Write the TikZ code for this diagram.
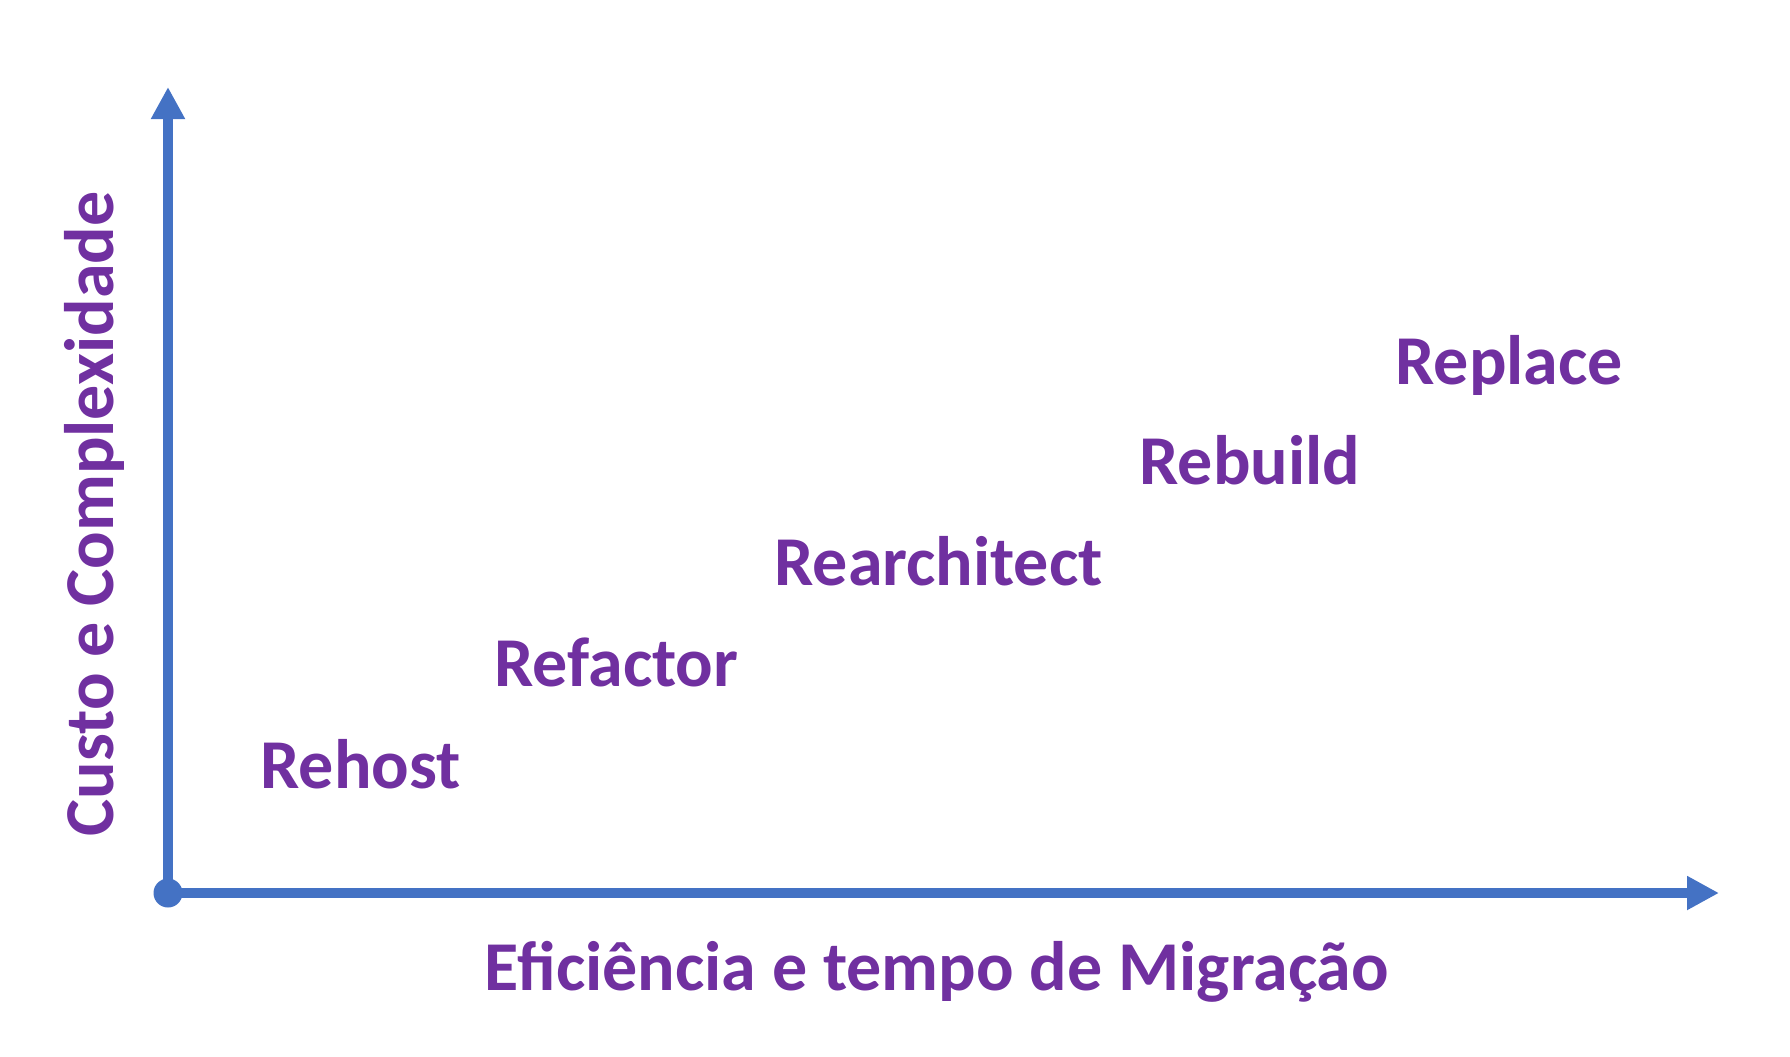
\documentclass[tikz,border=0pt]{standalone}
\usepackage{fontspec}
\setmainfont{Carlito}
\usetikzlibrary{arrows.meta}
\definecolor{axisblue}{HTML}{4472C4}
\definecolor{labelpurple}{HTML}{7030A0}

\begin{document}
\begin{tikzpicture}[x=0.5pt, y=-0.5pt,
    axis/.style={line width=5.25pt, draw=axisblue, -{Triangle[length=16pt, width=16pt]}},
    strategy/.style={text=labelpurple, font=\fontsize{35}{42}\selectfont\bfseries, anchor=base west, inner sep=0pt}]
    \useasboundingbox (0,0) rectangle (1790,1056);
    \coordinate (origin) at (168,893);
    \coordinate (ytop) at (168,87);
    \coordinate (xend) at (1719,893);
    \draw[axis] (origin) -- (ytop);
    \draw[axis] (origin) -- (xend);
    \fill[axisblue] (origin) circle (14.5);
    \node[strategy] (rehost) at (260,788) {Rehost};
    \node[strategy] (refactor) at (494,686) {Refactor};
    \node[strategy] (rearchitect) at (774,585) {Rearchitect};
    \node[strategy] (rebuild) at (1139,484) {Rebuild};
    \node[strategy] (replace) at (1395,384) {Replace};
    \node[strategy, anchor=base] (xlabel) at (937,990) {Eficiência e tempo de Migração};
    \node[strategy, anchor=base, rotate=90] (ylabel) at (113,514) {Custo e Complexidade};
\end{tikzpicture}
\end{document}
